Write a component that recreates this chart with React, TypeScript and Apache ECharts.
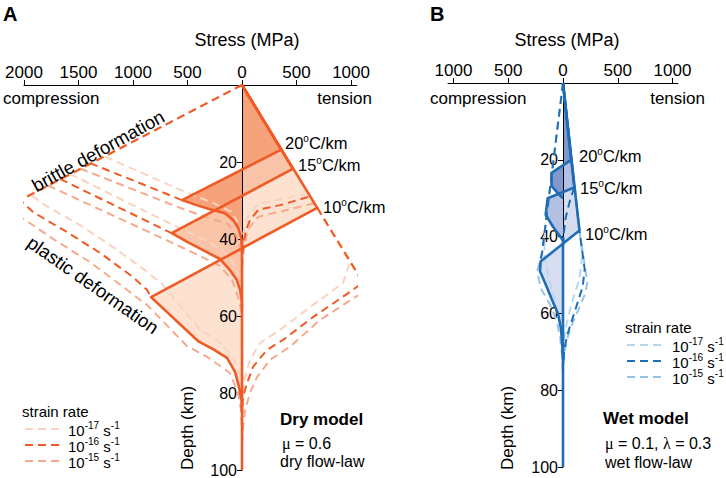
import React, { useEffect, useRef } from 'react';
import * as echarts from 'echarts';

// ---------- axes ----------
const stressTicksA = [-2000, -1500, -1000, -500, 0, 500, 1000];
const stressTicksB = [-1000, -500, 0, 500, 1000];
const depthTicks = [20, 40, 60, 80, 100];

// ---------- Panel A : dry model  ([stress MPa, tension > 0], [depth km]) ----------
const dry20 = [[0, 0], [360, 16.8], [-550, 29.9], [-418, 31.2], [-294, 32.3], [-156, 33.3], [-80, 35.1], [-34, 37.2], [-9, 39.4], [0, 42]];
const dry15 = [[0, 0], [465, 21.8], [-645, 38.5], [-507, 40.7], [-358, 42.9], [-202, 45.2], [-110, 48.1], [-49, 50.6], [-18, 53.2], [-3, 55.8], [0, 58]];
const dry10 = [[0, 0], [690, 31.9], [-835, 55.1], [-404, 66.5], [-266, 68.6], [-138, 70.9], [-64, 74.5], [-28, 78.4], [-5, 81.8], [0, 85]];
const dryTail = [[0, 40], [0, 100]];

// strain rate 1e-16 (dark dashed)
const dryD16Comp10 = [[0, 0], [-2037, 29.9], [-1917, 33.0], [-1606, 38.2], [-1303, 43.6], [-1000, 49.9], [-872, 53.2], [-835, 55.1]];
const dryD16Comp20 = [[-1394, 20.3], [-550, 29.9]];
const dryD16Comp15 = [[-1670, 24.4], [-645, 38.5]];
const dryD16Ten10 = [[690, 31.9], [1110, 51.2], [1018, 53.2], [651, 60.3], [376, 66.2], [229, 68.8], [101, 73.2], [46, 77.4], [9, 81], [0, 86]];
const dryD16Ten15 = [[606, 29.1], [349, 31.2], [150, 32.4], [73, 35.1], [37, 37.7], [18, 40.3], [0, 45]];
// strain rate 1e-17
const dryD17Comp10 = [[-1927, 28.8], [-1807, 31.2], [-1486, 36.4], [-1183, 42.1], [-890, 48.1], [-725, 51.9], [-385, 63.6], [-229, 66.2], [-83, 70.6], [-18, 75.3], [0, 82]];
const dryD17Comp20 = [[-1257, 18.6], [-523, 27.8], [-266, 30.6], [-92, 33.0], [-28, 36.4], [-5, 39], [0, 42]];
const dryD17Comp15 = [[-1578, 23.1], [-615, 36.6], [-339, 40.3], [-156, 43.4], [-55, 47.5], [-14, 51.9], [0, 56]];
const dryD17Ten10 = [[690, 31.9], [990, 46], [927, 51.4], [624, 57.7], [349, 63.6], [165, 67], [73, 71.4], [28, 75.8], [6, 79], [0, 84]];
const dryD17Ten15 = [[605, 28.1], [318, 29.9], [150, 30.9], [67, 33.3], [30, 35.9], [12, 38.5], [0, 43]];
// strain rate 1e-15
const dryD15Comp10 = [[0, 0], [-2128, 31.4], [-2018, 34.5], [-1716, 40.3], [-1394, 46], [-1101, 52.2], [-936, 55.8], [-872, 57.1], [-505, 67.8], [-321, 70.6], [-110, 74.8], [-37, 80], [-9, 84.4], [0, 90]];
const dryD15Comp20 = [[-1486, 21.7], [-569, 31.9], [-312, 34.5], [-128, 36.1], [-55, 39], [-18, 42.3], [0, 46]];
const dryD15Comp15 = [[-1780, 26.1], [-679, 40.5], [-385, 44.4], [-202, 47], [-92, 50.6], [-28, 55.8], [0, 60]];
const dryD15Ten10 = [[690, 31.9], [1150, 53.5], [1055, 54.8], [716, 61], [440, 68], [257, 71.4], [138, 75.8], [73, 80], [28, 84.4], [5, 90], [0, 95]];
const dryD15Ten15 = [[660, 30.7], [349, 32.9], [150, 34.2], [73, 36.8], [37, 39.4], [18, 42], [0, 48]];

// ---------- Panel B : wet model ----------
const wet20 = [[0, 0], [75, 20], [-105, 23.4], [-105, 26.8], [-50, 28.6], [0, 30]];
const wet15 = [[0, 0], [103, 27.2], [-140, 30], [-158, 34.3], [-90, 37.5], [-30, 39.8], [0, 41]];
const wet10 = [[0, 0], [150, 38.4], [-205, 46.5], [-210, 49], [-150, 53], [-100, 56.5], [-46, 60], [-18, 64], [-7, 68], [0, 72]];
const wetTail = [[0, 40], [0, 100]];

const wetD16Comp = [[0, 0], [-190, 44], [-205, 46.5]];
const wetD16Ten = [[0, 0], [150, 38.4], [198, 48.5], [180, 53], [130, 57.5], [85, 61.5], [40, 65.5], [12, 69.3], [0, 74]];
const wetD16Ten15 = [[103, 27.2], [60, 31], [25, 35], [8, 39], [0, 43]];
const wetD17Comp = [[-165, 38], [-170, 45], [-120, 52], [-75, 56.5], [-35, 61], [-12, 65.5], [0, 70]];
const wetD17Ten = [[150, 38.4], [176, 45], [150, 51], [105, 55], [65, 59], [30, 63], [10, 67], [0, 71]];
const wetD15Comp = [[0, 0], [-190, 44], [-235, 49], [-205, 53.4], [-116, 57.8], [-55, 62.2], [-24, 66.6], [-9, 71], [0, 76]];
const wetD15Ten = [[150, 38.4], [222, 52], [200, 55], [150, 58.5], [95, 62], [45, 66], [15, 70], [0, 75]];

// ---------- styling ----------
const FONT = '"Liberation Sans", Arial, Helvetica, sans-serif';
const OR = '#f15a24';
const OR17 = '#fbd2c1';
const OR15 = '#f6aa8d';
const BL = '#1f6db5';
const BL17 = '#b7d7ef';
const BL15 = '#95c3e6';
const DASH = [8, 5];

function buildOption() {
  const series: any[] = [];
  const addPoly = (pts: number[][], fill: string, gi: number) =>
    series.push({
      type: 'custom', xAxisIndex: gi, yAxisIndex: gi, z: 1, silent: true, clip: false,
      data: [[0, 0]],
      renderItem: (params: any, api: any) => ({
        type: 'polygon',
        shape: { points: pts.map((p) => api.coord(p)) },
        style: { fill, stroke: 'none' },
      }),
    });
  const addLine = (pts: number[][], color: string, width: number, dash: boolean, gi: number, z: number) =>
    series.push({
      type: 'line', xAxisIndex: gi, yAxisIndex: gi, data: pts, symbol: 'none', showSymbol: false,
      clip: false, silent: true, z,
      lineStyle: { color, width, type: dash ? DASH : 'solid', join: 'round' },
    });

  // Panel A
  addPoly(dry10, '#fde1d1', 0);
  addPoly(dry15, '#f9c4a8', 0);
  addPoly(dry20, '#f6a27b', 0);
  [dryD17Comp10, dryD17Comp20, dryD17Comp15, dryD17Ten10, dryD17Ten15].forEach((p) => addLine(p, OR17, 2, true, 0, 4));
  [dryD15Comp10, dryD15Comp20, dryD15Comp15, dryD15Ten10, dryD15Ten15].forEach((p) => addLine(p, OR15, 2, true, 0, 4));
  [dryD16Comp10, dryD16Comp20, dryD16Comp15, dryD16Ten10, dryD16Ten15].forEach((p) => addLine(p, OR, 2, true, 0, 5));
  [dry10, dry15, dry20, dryTail].forEach((p) => addLine(p, OR, 2.6, false, 0, 6));

  // Panel B
  addPoly(wet10, '#d7ddf1', 1);
  addPoly(wet15, '#b3bfe3', 1);
  addPoly(wet20, '#8397cf', 1);
  [wetD17Comp, wetD17Ten].forEach((p) => addLine(p, BL17, 2, true, 1, 4));
  [wetD15Comp, wetD15Ten].forEach((p) => addLine(p, BL15, 2, true, 1, 4));
  [wetD16Comp, wetD16Ten, wetD16Ten15].forEach((p) => addLine(p, BL, 2, true, 1, 5));
  [wet10, wet15, wet20, wetTail].forEach((p) => addLine(p, BL, 2.6, false, 1, 6));

  const xAx = (gi: number, min: number, max: number, ticks: number[]) => ({
    gridIndex: gi, type: 'value', position: 'top', min, max, z: 3,
    axisLine: { onZero: false, lineStyle: { color: '#000', width: 1 } },
    axisTick: { show: true, length: 5, customValues: ticks, lineStyle: { color: '#000', width: 1 } },
    axisLabel: { color: '#000', fontSize: 17, fontFamily: FONT, margin: 4, customValues: ticks, formatter: (v: number) => String(Math.abs(v)) },
    splitLine: { show: false },
  });
  const yAx = (gi: number, offset: number) => ({
    gridIndex: gi, type: 'value', inverse: true, min: 0, max: 100, z: 3, position: 'left', offset,
    axisLine: { onZero: false, lineStyle: { color: '#000', width: 1 } },
    axisTick: { show: true, length: 5, customValues: depthTicks, lineStyle: { color: '#000', width: 1 } },
    axisLabel: { color: '#000', fontSize: 16, fontFamily: FONT, margin: 5, customValues: depthTicks },
    splitLine: { show: false },
  });

  const sup = { fontSize: 10, lineHeight: 6, verticalAlign: 'top', fontFamily: FONT, fill: '#000' };
  const txt = (text: string, x: number, y: number, o: any = {}) => ({
    type: 'text', x, y, rotation: o.rot || 0, silent: true, z: 10,
    style: {
      text, x: 0, y: 0, fill: '#000', fontSize: o.size || 17, fontFamily: FONT, fontWeight: o.weight || 'normal',
      align: o.align || 'left', textAlign: o.align || 'left', verticalAlign: 'middle', textVerticalAlign: 'middle',
      rich: o.rich,
    },
  });
  const richN = (size: number) => ({
    n: { fontSize: size, lineHeight: 18, verticalAlign: 'bottom', fontFamily: FONT, fill: '#000' },
    s: sup,
    g: { fontSize: size, lineHeight: 18, verticalAlign: 'bottom', fontFamily: '"Liberation Serif", "DejaVu Serif", serif', fill: '#000' },
  });
  const geo = (t: string, x: number, y: number) => txt(`{n|${t}}{s|o}{n|C/km}`, x, y, { rich: richN(16.5) });
  const rate = (e: string, x: number, y: number) => txt(`{n|10}{s|-${e}}{n| s}{s|-1}`, x, y, { rich: richN(15) });
  const leg = (x1: number, x2: number, y: number, color: string) => ({
    type: 'line', silent: true, z: 10, shape: { x1, y1: y, x2, y2: y }, style: { stroke: color, lineWidth: 2, lineDash: DASH },
  });

  const graphic = [
    txt('A', 3, 14, { size: 20, weight: 'bold' }),
    txt('B', 430, 14, { size: 20, weight: 'bold' }),
    txt('Stress (MPa)', 247, 40, { size: 18, align: 'center' }),
    txt('Stress (MPa)', 567, 40, { size: 18, align: 'center' }),
    txt('compression', 3, 98),
    txt('tension', 372, 98, { align: 'right' }),
    txt('compression', 430, 98),
    txt('tension', 705, 98, { align: 'right' }),
    geo('20', 285, 142), geo('15', 298, 164), geo('10', 323, 206),
    geo('20', 579, 155), geo('15', 580, 187), geo('10', 585, 233),
    txt('brittle deformation', 98, 151, { size: 18.5, align: 'center', rot: (29 * Math.PI) / 180 }),
    txt('plastic deformation', 93, 285, { size: 18.5, align: 'center', rot: (-35 * Math.PI) / 180 }),
    txt('Depth (km)', 187, 428, { align: 'center', rot: Math.PI / 2 }),
    txt('Depth (km)', 507, 428, { align: 'center', rot: Math.PI / 2 }),
    // legend A
    txt('strain rate', 22, 411, { size: 15 }),
    leg(25, 62, 429, OR17), leg(25, 62, 445, OR), leg(25, 62, 461, OR15),
    rate('17', 68, 429), rate('16', 68, 445), rate('15', 68, 461),
    // legend B
    txt('strain rate', 625, 327, { size: 15 }),
    leg(627, 663, 345, BL17), leg(627, 663, 361, BL), leg(627, 663, 377, BL15),
    rate('17', 672, 345), rate('16', 672, 361), rate('15', 672, 377),
    // model notes
    txt('Dry model', 280, 419, { size: 17, weight: 'bold' }),
    txt('{g|μ}{n| = 0.6}', 282, 442, { rich: richN(16) }),
    txt('dry flow-law', 280, 461, { size: 16 }),
    txt('Wet model', 603, 418, { size: 17, weight: 'bold' }),
    txt('{g|μ}{n| = 0.1, }{g|λ}{n| = 0.3}', 605, 442, { rich: richN(16) }),
    txt('wet flow-law', 605, 462, { size: 16 }),
  ];

  return {
    animation: false,
    backgroundColor: '#fff',
    grid: [
      { left: 24, top: 85, width: 332.5, height: 385, outerBoundsMode: 'none', containLabel: false },
      { left: 448, top: 83, width: 230, height: 384, outerBoundsMode: 'none', containLabel: false },
    ],
    xAxis: [xAx(0, -2000, 1050, stressTicksA), xAx(1, -1050, 1050, stressTicksB)],
    yAxis: [yAx(0, -218), yAx(1, -115)],
    series,
    graphic,
  };
}

export default function App() {
  const ref = useRef<HTMLDivElement>(null);
  useEffect(() => {
    const chart = echarts.init(ref.current as HTMLDivElement, null, { renderer: 'svg' });
    chart.setOption(buildOption() as any);
    return () => chart.dispose();
  }, []);
  return <div ref={ref} style={{ position: 'absolute', left: 0, top: 0, width: 726, height: 478 }} />;
}
